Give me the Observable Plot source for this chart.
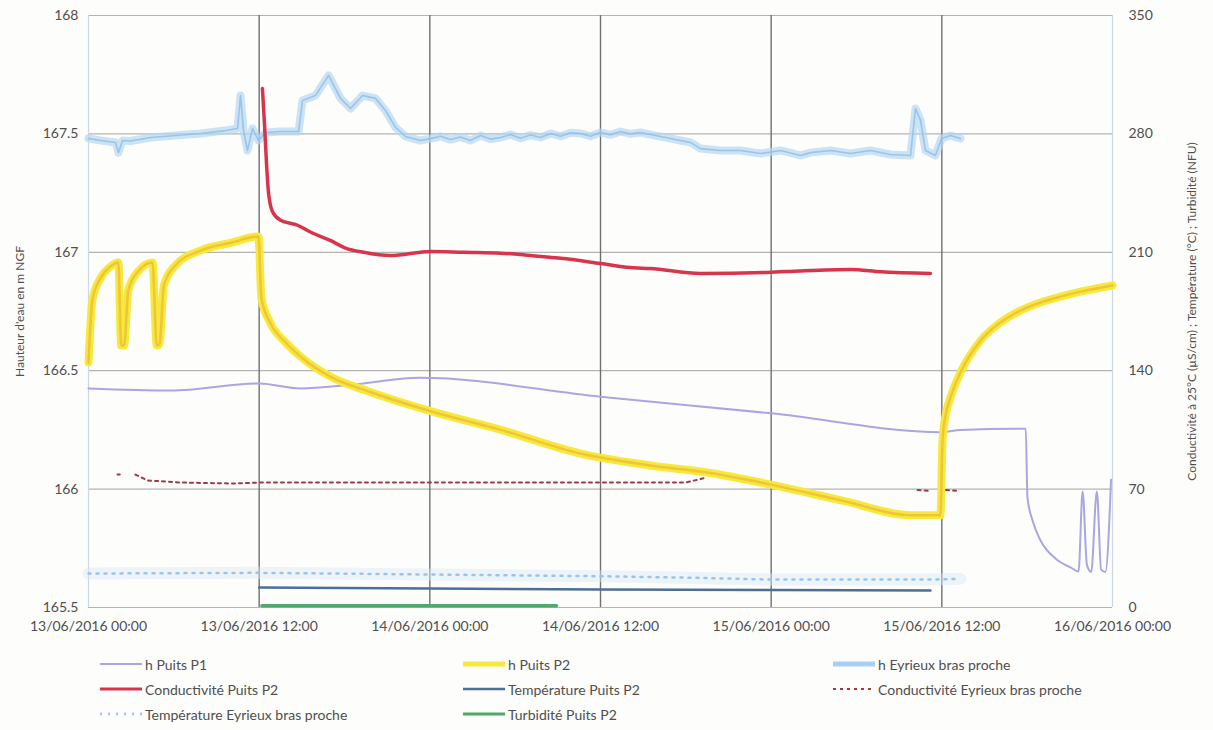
<!DOCTYPE html>
<html>
<head>
<meta charset="utf-8">
<script src="https://cdn.jsdelivr.net/npm/d3@7"></script>
<script src="https://cdn.jsdelivr.net/npm/@observablehq/plot@0.6"></script>
<style>
  body { margin: 0; background: #fdfdfb; font-family: Lato, "Open Sans", sans-serif; }
  #wrap { position: relative; width: 1213px; height: 730px; }
  #legend { position: absolute; left: 0; top: 0; width: 1213px; height: 730px; pointer-events: none; }
  .item { position: absolute; display: flex; align-items: center; font-size: 14px; color: #4f4f4f; white-space: nowrap; height: 20px; }
  .item svg { display: block; margin-right: 3px; }
</style>
</head>
<body>
<div id="wrap"><div id="chart"></div><div id="legend"></div></div>
<script>
// Time axis: hours since 13/06/2016 00:00
const START = Date.UTC(2016, 5, 13, 0, 0);
const xTickHours = [0, 12, 24, 36, 48, 60, 72];
const leftTicks = [165.5, 166, 166.5, 167, 167.5, 168];
const rightTicks = [0, 70, 140, 210, 280, 350];

// Water levels (m NGF, left axis)
const p1Hours = [0, 5.8, 12, 14.9, 18.4, 23.3, 36, 48, 60, 61.3, 65.9, 66.02, 66.38, 66.94, 67.99, 69.05, 69.61, 69.9, 70.2, 70.5, 70.9, 71.2, 71.5, 71.9];
const p1Level = [166.425, 166.416, 166.446, 166.425, 166.44, 166.47, 166.39, 166.32, 166.24, 166.25, 166.255, 165.965, 165.867, 165.783, 165.707, 165.669, 165.652, 165.99, 165.68, 165.65, 165.99, 165.66, 165.65, 166.04];

const p2Hours = [0, 0.28, 0.84, 1.55, 2.1, 2.3, 2.5, 2.8, 3.5, 4.5, 4.8, 5.0, 5.3, 6.1, 7.9, 10.0, 11.95, 12.16, 12.8, 13.85, 14.9, 17.0, 19.8, 24, 29, 34.6, 39.5, 43.5, 47.9, 53.1, 57.8, 59.9, 60.05, 60.26, 60.61, 61.31, 62.72, 64.13, 65.53, 66.94, 68.34, 69.75, 72];
const p2Level = [166.535, 166.80, 166.89, 166.94, 166.957, 166.606, 166.606, 166.84, 166.92, 166.957, 166.606, 166.615, 166.86, 166.944, 167.008, 167.04, 167.067, 166.805, 166.70, 166.62, 166.56, 166.475, 166.41, 166.33, 166.25, 166.15, 166.10, 166.07, 166.02, 165.95, 165.89, 165.89, 166.205, 166.31, 166.387, 166.492, 166.627, 166.704, 166.754, 166.788, 166.813, 166.834, 166.86];

const eyrHours = [0, 0.84, 1.9, 2.11, 2.39, 2.95, 4.36, 6.12, 7.88, 9.63, 10.48, 10.69, 10.9, 11.18, 11.53, 11.95, 12.45, 13.5, 14.77, 15.05, 15.96, 16.88, 17.72, 18.42, 19.27, 20.18, 20.88, 21.59, 22.29, 23.34, 24.05, 24.75, 25.45, 26.16, 26.86, 27.56, 28.27, 28.97, 29.67, 30.38, 31.08, 31.78, 32.49, 33.19, 33.9, 34.59, 35.3, 36, 36.7, 37.41, 38.11, 38.81, 39.87, 41.63, 42.33, 43.03, 44.44, 45.84, 47.25, 48.66, 50.06, 50.77, 52.17, 53.58, 54.98, 56.39, 57.8, 58.15, 58.5, 58.85, 59.55, 59.98, 60.61, 61.31];
const eyrLevel = [167.481, 167.472, 167.464, 167.421, 167.472, 167.47, 167.485, 167.493, 167.502, 167.514, 167.523, 167.662, 167.514, 167.43, 167.523, 167.472, 167.506, 167.51, 167.51, 167.641, 167.662, 167.747, 167.65, 167.607, 167.662, 167.65, 167.599, 167.527, 167.489, 167.472, 167.48, 167.49, 167.476, 167.487, 167.472, 167.493, 167.478, 167.485, 167.497, 167.482, 167.495, 167.485, 167.502, 167.49, 167.505, 167.502, 167.49, 167.506, 167.496, 167.51, 167.5, 167.506, 167.493, 167.472, 167.464, 167.438, 167.43, 167.43, 167.417, 167.43, 167.409, 167.421, 167.43, 167.417, 167.43, 167.413, 167.409, 167.607, 167.557, 167.43, 167.409, 167.481, 167.493, 167.481];

// Conductivity (µS/cm), temperature (°C), turbidity (NFU): right axis
const condP2Hours = [12.23, 12.38, 12.52, 12.66, 12.94, 13.5, 14.7, 15.6, 17.0, 18.07, 19.34, 21.23, 24.05, 26.37, 28.97, 31.08, 33.4, 36, 38.1, 39.5, 43.03, 47.74, 50.06, 53.58, 55.7, 59.2];
const condP2 = [306.8, 285, 262, 245, 234, 229, 226, 222, 217, 212.5, 210, 208.1, 210.5, 210, 209.5, 208.1, 206.3, 203.4, 201, 200.4, 197.5, 198.1, 199, 199.8, 198.5, 197.5];

const tempP2Hours = [12, 24, 36, 48, 59.2];
const tempP2 = [11.8, 11.2, 10.6, 10.3, 10.0];

const condEyrHours = [2.04, 2.2, null, 3.3, 4.15, 6.47, 10.2, 12, 24.05, 36, 42, 43.45, null, 58.3, 59.0, null, 60.3, 61.1];
const condEyr = [78.6, 78.6, null, 78.6, 75.1, 73.9, 73.3, 73.9, 73.9, 73.9, 73.9, 76.8, null, 69.5, 69.0, null, 69.5, 69.0];

const tempEyrHours = [0, 12, 24, 36, 43, 48, 59.2, 61.3];
const tempEyr = [20.1, 20.5, 19.5, 18.5, 17.5, 16.5, 16.5, 17.0];

const turbP2Hours = [12.2, 24, 32.9];
const turbP2 = [1.0, 1.0, 1.0];

// Right-axis values share the plot with the left axis: 0 → 165.5, 350 → 168
const toLeft = v => 165.5 + v / 140;
const date = h => new Date(START + h * 3600e3);
const series = (hours, values, conv = v => v) =>
  hours.map((h, i) => ({t: h == null ? null : date(h), v: values[i] == null ? NaN : conv(values[i])}));

const sP1 = series(p1Hours, p1Level);
const sP2 = series(p2Hours, p2Level);
const sEyr = series(eyrHours, eyrLevel);
const sCondP2 = series(condP2Hours, condP2, toLeft);
const sTempP2 = series(tempP2Hours, tempP2, toLeft);
const sCondEyr = series(condEyrHours, condEyr, toLeft);
const sTempEyr = series(tempEyrHours, tempEyr, toLeft);
const sTurb = series(turbP2Hours, turbP2, toLeft);

const fmtDate = d3.utcFormat("%d/%m/%Y %H:%M");
const line = (data, opts) => Plot.line(data, {x: "t", y: "v", curve: "linear", ...opts});

const chart = Plot.plot({
  width: 1213,
  height: 645,
  marginLeft: 88,
  marginRight: 101,
  marginTop: 15,
  marginBottom: 38,
  style: {fontFamily: "Lato, 'Open Sans', sans-serif", fontSize: "14px", color: "#4f4f4f", background: "transparent"},
  x: {type: "utc", domain: [date(0), date(72)]},
  y: {domain: [165.5, 168]},
  marks: [
    // gridlines
    Plot.ruleY(leftTicks, {stroke: "#b4b4b4", strokeWidth: 1.2}),
    Plot.ruleX(xTickHours.slice(1, -1).map(date), {stroke: "#707070", strokeWidth: 1.4}),
    Plot.ruleX([date(0), date(72)], {stroke: "#cfd6e6", strokeWidth: 1.2}),
    // series
    line(sTempEyr, {stroke: "#d6e8f6", strokeWidth: 12, strokeOpacity: 0.45}),
    line(sTempEyr, {stroke: "#9cc4e6", strokeWidth: 2.5, strokeDasharray: "2,6"}),
    line(sP1, {stroke: "#aaa6e2", strokeWidth: 2, curve: "monotone-x"}),
    line(sEyr, {stroke: "#b6d7f2", strokeWidth: 8, strokeOpacity: 0.7}),
    line(sEyr, {stroke: "#8cbde6", strokeWidth: 1.6, strokeOpacity: 0.8}),
    line(sP2, {stroke: "#f5ea3a", strokeWidth: 8, curve: "monotone-x"}),
    line(sP2, {stroke: "#f0b43a", strokeWidth: 2.5, strokeOpacity: 0.7, curve: "monotone-x"}),
    line(sCondP2, {stroke: "#d8344c", strokeWidth: 3.5, curve: "monotone-x"}),
    line(sCondEyr, {stroke: "#9b3b45", strokeWidth: 2, strokeDasharray: "3,4"}),
    line(sTempP2, {stroke: "#4d6f97", strokeWidth: 2.5}),
    line(sTurb, {stroke: "#4ea96c", strokeWidth: 3.5}),
    // axes
    Plot.axisX({ticks: xTickHours.map(date), tickSize: 0, tickPadding: 14, tickFormat: fmtDate, label: null}),
    Plot.axisY({ticks: leftTicks, tickSize: 0, tickPadding: 10, tickFormat: d => String(d),
      label: "Hauteur d'eau en m NGF", labelAnchor: "center", labelOffset: 73, labelArrow: "none"}),
    Plot.axisY({anchor: "right", ticks: rightTicks.map(toLeft), tickSize: 0, tickPadding: 16,
      tickFormat: d => String(Math.round((d - 165.5) * 140)),
      label: "Conductivité à 25°C (µS/cm) ; Température (°C) ; Turbidité (NFU)", labelAnchor: "center", labelOffset: 83, labelArrow: "none"})
  ]
});
d3.select(chart).selectAll("[aria-label='y-axis label'] text, [aria-label='y-axis label']").style("font-size", "12px");
document.getElementById("chart").appendChild(chart);

// Legend below the chart
const legendItems = [
  {label: "h Puits P1", x: 100, y: 664, stroke: "#aaa6e2", w: 2},
  {label: "h Puits P2", x: 463, y: 664, stroke: "#f5ea3a", w: 5},
  {label: "h Eyrieux bras proche", x: 833, y: 664, stroke: "#a9d0f0", w: 5},
  {label: "Conductivité Puits P2", x: 100, y: 689, stroke: "#d8344c", w: 3},
  {label: "Température Puits P2", x: 463, y: 689, stroke: "#4d6f97", w: 2.5},
  {label: "Conductivité Eyrieux bras proche", x: 833, y: 689, stroke: "#9b3b45", w: 2, dash: "3,4"},
  {label: "Température Eyrieux bras proche", x: 100, y: 714, stroke: "#9cc4e6", w: 2.5, dash: "2,6"},
  {label: "Turbidité Puits P2", x: 463, y: 714, stroke: "#4ea96c", w: 3}
];
const legend = document.getElementById("legend");
for (const it of legendItems) {
  const div = document.createElement("div");
  div.className = "item";
  div.style.left = it.x + "px";
  div.style.top = (it.y - 10) + "px";
  const sw = 42;
  div.innerHTML = `<svg width="${sw}" height="10"><line x1="0" x2="${sw}" y1="5" y2="5" stroke="${it.stroke}" stroke-width="${it.w}" ${it.dash ? `stroke-dasharray="${it.dash}"` : ""}/></svg><span>${it.label}</span>`;
  legend.appendChild(div);
}
</script>
</body>
</html>
